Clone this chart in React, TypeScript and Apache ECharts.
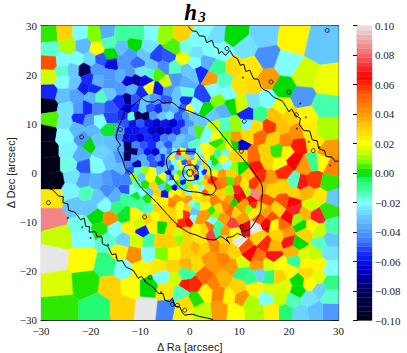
import React, { useEffect, useRef } from "react";
import * as echarts from "echarts";

type Cell = [number, number, number];

const cellsNorthWest: Cell[] = [
[-28.4,28.2,.003],[-25.1,28.5,.03],[-22.1,28.5,-.02],[-19.1,28.2,.008],[-16.7,28.5,-.036],[-13.7,28.2,-.012],[-10.7,28.5,-.012],[-7.7,28.5,-.02],[-5,28.2,.01],[-1.6,28.2,.03],
[-28.1,25.1,-.016],[-24.5,25.9,.012],[-21.5,25.8,-.033],[-18.7,25.1,.02],[-16.2,26.5,-.014],[-16,24.1,0],[-13.7,25.5,-.032],[-11.1,25.9,0],[-8.3,25.5,-.025],[-12,24.1,-.04],[-9.3,24.1,-.03],[-6.6,23.9,-.052],[-4.3,23.8,-.05],[-3.3,25.5,.005],[-1.3,23.1,.018],[-.6,25.8,-.018],
[-28.2,22.4,.055],[-25.5,22.7,-.02],[-22.8,23.1,-.02],[-20.1,23.1,-.027],[-17.9,23.1,-.05],[-15.7,22.1,-.062],[-13.4,22.4,-.04],[-10.5,22.4,-.048],[-7.6,21.7,-.03],[-5.3,21.4,-.043],[-3,21.4,-.015],[-.6,21,-.03],
[-28.3,19.5,.015],[-25.6,20.9,-.016],[-23.5,21,-.03],[-21.2,20.9,-.08],[-18.7,21,-.04],[-16,20,-.04],[-13.9,19.7,-.035],[-12,20.4,-.04],[-10,20.5,-.025],[-8,20.4,-.015],[-6.3,20.2,.005],[-4.8,18.3,.015],[-2.8,19,-.04],[-.6,18.3,-.035],
[-28.2,16.4,-.056],[-25.6,18.5,-.02],[-23.1,18.3,-.03],[-20.4,19,-.055],[-21.4,17.3,-.058],[-18.8,18.7,-.035],[-16,18,-.04],[-12.4,18.7,-.065],[-10.8,19,-.07],[-9,18.7,-.062],[-8.2,17.3,.02],[-6.3,17,-.06],[-4.3,16.7,-.04],[-.9,16.4,-.017],[-19.4,17,-.055],[-14,17,-.04],[-11.7,17,-.035],[-9.7,16.2,-.055],[-2.6,16,-.03],
[-25.5,15.7,-.032],[-22.8,15.7,-.038],[-19.7,15.5,-.034],[-18.2,15.5,-.015],[-16,16.3,-.03],[-12.6,14.9,-.075],[-14,14.6,-.055],[-11,14.9,-.05],[-8.8,14.6,-.03],[-7,14.9,-.04],[-4.7,14.6,-.05],[-1,14.6,-.055],[-2.7,13.9,-.03],
[-28.5,13.6,-.1],[-28.1,10.9,.005],[-28.7,8.1,-.1],[-28.5,4.7,-.1],[-28.1,1.7,-.1],
[-24.8,12.9,-.025],[-25.1,10.2,-.025],[-25.1,7.5,-.02],[-24.3,4.7,-.022],[-24.1,1.7,-.018],
[-22.1,13,-.04],[-20.9,13,-.055],[-22.1,11,-.055],[-22.8,9,-.033],[-20.4,10.6,-.04],[-19.8,8.6,-.033],[-18.1,10.7,-.02],[-18.4,13,-.045],[-16,13,-.05],[-16,11.5,-.052],[-16.2,8.6,-.002],
[-21.5,7,-.04],[-20.1,5.9,0],[-22.1,3.5,-.035],[-18.7,6.5,-.03],[-17.7,4.2,-.028],[-21.4,1.3,-.05],[-18.7,1.5,-.02],[-16,6.3,-.032],[-16,2.5,-.03],[-13.9,7.5,-.045],[-14,5.5,-.035],[-14,3,-.04],[-13.7,1,-.032],
];

const cellsBlueCore: Cell[] = [
[-12.5,13,-.065],[-11,13.2,-.055],[-9.5,12.9,-.03],[-8,13.2,-.05],[-6.3,12.9,-.055],[-4.8,13.2,-.04],[-3.2,12.9,-.035],[-1.5,13.2,-.05],[0,12.9,.02],
[-13.2,11.5,-.055],[-11.8,11.4,-.016],[-10.4,11.6,-.08],[-8.9,11.5,-.08],[-7.3,11.6,-.04],[-5.6,11.5,-.03],[-4,11.6,-.025],[-2.3,11.5,-.05],[-.7,11.6,-.04],
[-13,10,-.05],[-11.5,9.9,-.06],[-10,10.1,-.05],[-8.3,10,-.06],[-6.7,10.1,-.065],[-5,10,-.06],[-3.4,10.1,-.065],[-1.7,10,-.055],[-.2,10.1,-.04],
[-14,8.5,-.04],[-12.3,8.5,-.06],[-10.9,8.6,-.06],[-9.2,8.5,-.055],[-7.6,8.6,-.065],[-5.9,8.5,-.07],[-4.3,8.6,-.065],[-2.6,8.5,-.055],[-1,8.6,-.04],[.4,8.5,-.03],
[-12.8,7.1,-.06],[-11.6,7,-.06],[-10,7.1,-.065],[-8.4,7,-.055],[-6.8,7.1,-.06],[-5.1,7,-.045],[-3.5,7.1,-.04],[-1.8,7,-.03],[-.2,7.1,-.035],
[-12.5,5.6,-.08],[-10.9,5.6,-.045],[-9.3,5.5,-.05],[-7.6,5.6,-.055],[-6,5.5,-.035],[-4.3,5.6,-.05],[-2.7,5.5,-.03],[-1,5.6,-.035],[.5,5.5,-.015],
[-11,4.3,-.08],[-10,4.2,-.045],[-8.5,4.3,-.06],[-6.9,4.2,-.065],[-5.2,4.4,-.03],
[-12.5,3,-.08],[-11.2,2.9,-.04],[-9.5,3,-.035],[-7.8,2.9,-.05],[-6.2,3,-.04],[-5.4,3.1,-.055],
[-12.5,1.8,-.045],[-10.6,1.7,-.07],[-8.9,1.8,-.035],[-7.3,1.7,-.05],[-5.7,1.8,-.06],
];

const cellsCentre: Cell[] = [
[-4,4.2,-.045],[-3,4.2,-.02],[-2.3,4,.065],[-1.3,4.3,.02],[-.3,4.1,-.05],[.7,4.3,-.05],[1.7,4.1,-.02],[3,4.3,.02],[4.3,4.1,.025],
[-4.5,3.1,-.03],[-3.5,3,.02],[-2.5,3.2,-.03],[-1.5,3,-.015],[-.5,3.2,.03],[.5,3,-.03],[1.5,3.2,.02],[2.5,3,-.025],[3.5,3.2,.02],[4.7,3,.002],
[-4.3,2,-.04],[-3.1,2.1,-.02],[-2.1,1.9,.02],[-1.1,2.1,-.05],[-.1,1.9,.05],[.9,2.1,.02],[1.9,1.9,-.03],[2.9,2.1,.03],[3.9,1.9,-.02],[5,2,.002],
[-4.7,1,-.03],[-3.6,.9,-.05],[-2.6,1.1,-.02],[-1.6,.9,.02],[-.6,1.1,-.02],[.4,.9,.03],[1.4,1.1,-.05],[2.4,.9,-.02],[3.4,1.1,.03],[4.4,.9,-.015],
[-4.2,0,-.06],[-3.1,.1,-.025],[-2.1,-.1,.005],[-1.1,.1,-.035],[-.1,-.1,.02],[.9,.1,.045],[1.9,-.1,-.02],[3,.2,-.055],[3.9,-.1,.025],[5,.1,.02],
[-4.5,-1,-.03],[-3.6,-1.1,-.05],[-2.6,-.9,.02],[-1.6,-1.1,-.03],[-.6,-.9,-.02],[.4,-1.1,.02],[1.4,-.9,-.06],[2.4,-1.1,-.02],[3.4,-.9,.04],
[-3.5,-2,-.02],[-2.5,-2.1,.005],[-1.3,-1.9,-.06],[-.2,-2.1,.01],[.8,-1.9,-.025],[1.8,-2.1,-.015],[2.8,-1.9,.03],
[-3,-3,-.065],[-2,-3.1,-.03],[-.9,-2.9,-.01],[.2,-3.1,.03],[1.3,-2.9,.02],[2.3,-3.1,-.02],[3.6,-2.9,.03],
[-2.2,-4,.02],[-1.2,-4.1,.03],[-.2,-3.9,-.02],[.9,-4.1,.025],
[-12,.5,-.05],[-10.5,.4,-.015],[-9,.6,.01],[-7.5,.4,.02],[-6,.6,-.03],
[-11.3,-1,.01],[-9.8,-.9,-.03],[-8,-1.1,.02],[-6,-1.8,.002],[-5.2,-.9,.02],
[-10.6,-2.6,-.015],[-9,-2.5,.002],[-7.4,-2.8,.03],[-5.5,-3,-.03],[-4.4,-3.2,.002],
[-9.5,-4,-.02],[-8,-3.9,-.03],[-6.5,-4.1,.03],[-5,-4.2,-.06],[-3.5,-4.2,.02],[-2.8,-5,.04],
];

const cellsNorthEast: Cell[] = [
[3.4,29,-.02],[1.3,26.8,-.02],[5,28.2,-.026],[9.2,27.8,0],[14.8,27.8,-.028],[20.8,27.1,.022],[26.5,25.8,-.03],
[11.1,25.5,-.025],[6.7,24.4,-.02],[15.5,23.4,-.042],[19.5,22,-.02],[23.2,19.7,.015],[27.5,18.3,.018],
[15.8,19,.04],[18.8,17.3,0],[22.8,15.3,-.04],[26.9,13.6,-.013],[8.7,21.7,.028],[12.4,21.4,.025],[10,17.6,.026],[12.8,17.6,.028],
[2,20.4,-.055],[4.4,19,.04],[5.7,21.4,-.01],[6.7,18.7,-.015],[.6,20,-.03],[3.4,22.7,-.035],[1,22.5,-.02],[1.3,24.5,-.025],[4,24.9,-.02],
[7.7,16,-.02],[2.7,15.7,-.052],[5.9,14.6,.008],[8.2,13.7,0],[12.8,14.6,-.025],[15.6,14.9,-.02],[18.5,13.4,.018],[11.6,11.9,-.055],[14.1,11.9,-.01],[17.1,11.5,.033],[20.2,11.2,.03],[23.5,11.5,.022],[27.2,8.8,.012],[10.4,14,.015],[3.2,12.8,0],[6.7,12.8,-.035],[4.4,11.5,-.03],[1.3,13.6,-.02],[.5,11.5,-.03],[2,10.3,-.03],[4.8,17,-.02],
[11.4,9.8,-.022],[16,9.3,.058],[9.3,9.6,.01],[7,9.5,-.015],[5,9.5,.014],[13.4,9.2,.028],[18.8,9.2,.033],[21.5,8.1,.042],[24.2,8.5,.024],[14.2,7.5,.05],[16.8,6.8,.03],[19.5,6.6,.045],[21.8,5.6,.062],[25.2,6.1,.025],[11.4,7.5,.028],[9.4,7.1,.04],[7,7.5,.008],[5.4,7.3,.02],[3.4,8,-.02],[1.8,8.7,.005],
[10.4,5.6,-.065],[9.1,5.6,0],[15.1,4.1,.03],[17.6,4.4,.003],[19.6,4,.022],[21,2.6,.065],[27.7,4.4,.04],[24.9,2,-.01],[23.2,1.4,.04],[28.6,1.3,.045],[15.8,2.2,.03],[8,5.2,.022],[6.5,5.3,.008],[5.8,6.2,.002],[18,1.8,.02],[26.8,2.2,.02],
];

const cellsSouthEast: Cell[] = [
[18.8,.2,.06],[22.5,-2.1,.068],[25.2,-1.5,.058],[27.9,-2.1,.003],[28.9,-5.2,-.03],[26.2,-4.9,.025],[23.5,-4.2,.035],[21,-4.2,.03],[21.2,-1.8,-.015],[18.8,-2.8,.03],[16,-1.1,.04],[16.1,-3.5,.03],[19.2,-5.7,.055],[20.5,-6,.065],[24.5,-6.6,.015],[21,-7.7,.07],[23.2,-8.5,.035],[25.7,-8.7,.07],[27.9,-7.7,.003],[28.9,-11,-.013],[26,-12,.014],[22.5,-10.8,0],[24.5,-11,.022],[21.6,-9.4,.01],[19.8,-9.1,.065],[17.7,-7.6,.03],[16.5,-8.9,.055],[15.5,-10.3,.065],[17.1,-10.6,.022],[18.8,-10.6,.05],[19.5,-12.3,.04],[20,-14,.068],[21.8,-14.4,0],[23.2,-12.3,.03],[15.3,-14.5,.06],[13.8,-13,.03],[17.8,-12.7,.03],[16.9,-15,.035],[20.7,-16,.035],[16.9,-17,.068],[12.1,-16.4,.065],[11.1,-15,.055],[10.1,-14,.1],[13.8,-17.2,.048],[10.4,-18.5,.016],[8.7,-19,.04],[21.2,-18,-.01],[23.2,-16.8,.016],[25.2,-16.4,.014],[26.5,-14.4,-.015],[28.2,-16.4,-.025],[28.2,-13.7,-.03],[28.2,-19.5,-.02],[28.2,-22.5,-.008],[26.2,-23.9,-.028],[23.9,-25.6,-.025],[28.2,-25.2,-.016],[28.2,-28.3,-.04],[25.5,-28.3,-.032],[22.2,-28.6,-.028],[19.2,-28.3,-.006],[20.8,-25.9,-.014],[18.1,-25.6,.014],[15.6,-25.2,-.02],[12.1,-26.3,.012],[16.7,-28.3,.023],[13.1,-28.6,.012],[9.1,-28.3,.02],[6,-28,.04],[2.5,-28.3,.014],[10.6,-25.4,.042],[7.7,-24.9,.022],[6,-24.6,.045],[5,-22.5,.045],[3,-24.3,.022],[1,-25.6,.002],[1,-22.9,.06],[3.2,-21,.05],[6.7,-21.8,.035],[9.7,-23.2,.03],[13.1,-23.6,.022],[16.1,-24,.016],[19.2,-23.2,.016],[21.8,-21.9,0],[21.8,-24,0],[24.2,-22.5,.02],[25.9,-21.2,.017],[16.1,-21,-.008],[12.4,-21.2,-.01],[10.6,-20.3,-.008],[14.1,-20.5,-.028],[18,-21,.03],[20.3,-20,.022],[23.5,-20.3,.028],[15.8,-18.8,.016],[18.1,-18.6,.02],[13.8,-18.8,.04],[23.5,-18.5,.022],[26.2,-18.8,.022],[1,-18.4,.028],[5,-18.8,.04],[6.7,-17.4,.045],[4,-17,.04],
[1,-15,.035],[3,-15.5,.03],[5,-15,.045],[7,-15.3,.035],[8.8,-16,.03],[2,-13.5,.025],[7.2,-13.5,.03],
];

const cellsDisc: Cell[] = [
[12.8,3.6,.05],[13.4,.9,.062],[14.4,-.8,.06],[12.8,-2.2,.058],[10.4,.9,0],[9,.9,.01],[11.6,-.5,.03],[9.7,-1.8,.045],[8.1,-1.5,.005],[6.7,-1.8,.045],[6.4,-.1,.04],[7.4,1.6,-.02],[5.7,1.2,-.015],[5.4,3.6,-.01],[7.4,4.1,-.018],[4.4,-1.5,.06],[5.7,-2.5,.05],[4.1,-3.5,.028],[3,-4.2,.055],[2,-4.4,.022],[5,-5.5,.045],[7,-6.9,.045],[8.1,-3.8,.01],[9.7,-3.4,.07],[11.4,-4.2,.012],[13.1,-4.5,.085],[10.8,-4.5,.065],[9.7,-5.2,.065],[8.9,-5.9,0],[12.4,-5.5,.065],[8.1,-5.4,.04],[11.1,-6.2,.04],[12.6,-6.7,.06],[15.1,-5.5,.055],[14.6,-3.2,.04],[12.1,-7.2,.01],[10.2,-7.2,.04],[8.1,-7.6,.05],[4.4,-8,.003],[6,-7.2,.028],[1.3,-6.6,-.015],[.3,-6.2,-.02],[.7,-7.9,-.03],[3,-6.6,.022],[3.4,-8.6,.04],[5,-8.6,.01],[1.7,-9.6,.04],[.7,-9.3,-.02],[4.6,-9.8,-.02],[5.7,-10.6,-.012],[4,-11,.05],[8.7,-10.4,.075],[6.7,-9.3,.04],[10.4,-9.3,.04],[14.1,-9.3,.055],[11.4,-11.3,.065],[13.1,-11.3,.1],[4.4,-12.4,.075],[5.5,-12,-.01],[7.1,-12,.04],[3,-11.5,.03],[1.3,-11.3,.022],[9,-12.2,.022],[9.4,-8,.03],[13.1,-8,.024],[15.4,-8,.04],[14.4,-7,.03],[10.4,3.6,.03],[8.7,3.6,.03],[6.7,2.8,.02],[3,-5.3,.03],[1.3,-5.3,.025],[-.3,-5.5,.04],[6.4,-4.3,.03],[10.9,-2.2,.025],[8.4,-.2,.03],
[-3.6,-6.2,.045],[-5.2,-6,.022],[-7,-5.5,.022],[-8.6,-5.2,.002],[-11,-4.9,-.002],[-11.8,-3.5,-.02],[-12.7,-3.5,-.05],[-12.6,-1.5,-.045],[-15,-1.2,-.045],[-2,-7,.02],[-.4,-7.2,.03],
[-.8,-8.5,.06],[-2,-8.5,.022],[-3.5,-8,.03],[-5,-7.6,.028],[-6.6,-7.3,.03],[-8.3,-7.2,-.015],[-9.8,-6.3,-.012],[-11.4,-5.6,-.012],
[-.3,-10,.065],[-1.6,-10.3,.06],[-3.5,-9.8,.03],[-5.3,-9,.028],[-7,-8.8,.02],[-8.5,-9.5,.03],
[-.8,-12,.03],[-2.4,-12.4,.015],[-4,-11.5,.028],[-5.6,-11,0],[-7.6,-11,.022],
];

const cellsSouthWest: Cell[] = [
[-23.4,-.8,-.025],[-23.8,-3.8,-.022],[-27.5,-1.6,-.1],[-27.5,-5.2,.025],[-23.1,-6.6,-.03],[-27.5,-9.3,.085],[-20.8,-4.2,-.014],[-21.5,-1.5,-.038],[-18.8,-1.8,-.035],[-16.7,-3.5,-.043],[-18.4,-4.9,-.03],[-20.1,-6.9,-.03],[-17.1,-6.6,-.02],[-14.6,-6.9,-.008],[-13,-5.2,-.01],[-15,-4.9,-.035],[-16.5,-1.5,-.04],[-18.7,-8.9,0],[-16.2,-9.3,.042],[-18.1,-11.6,.002],[-21.7,-10.9,-.018],[-26.5,-13,.014],[-21.3,-12.8,-.02],[-15,-11.6,-.02],[-12.2,-11.3,.022],[-9.5,-11.9,-.058],[-10.3,-10.3,.015],[-13.4,-13.7,-.028],[-10.6,-13.8,.015],[-8.2,-13.8,-.012],[-16.6,-13.7,-.016],[-11.2,-8.5,.022],[-13,-8.5,-.002],
[-27.5,-17.4,.1],[-21.4,-17.8,.021],[-26.5,-22.9,.016],[-16.7,-18.8,-.008],[-14,-16,.023],[-11.2,-16.7,.043],[-8.3,-16.4,-.02],[-13.4,-19.5,-.02],[-5.6,-16.4,.008],[-6,-14,.03],[-3.6,-14,.03],[-2.2,-13.4,.01],[-.6,-16.4,.03],[-3.2,-16.4,.022],[-6.3,-19.1,.025],[-3.2,-19.1,.03],[-3,-21.5,.015],[-5.6,-21.2,-.02],[-.6,-22.9,.062],[-.9,-20.5,-.012],[-1.6,-24.5,-.014],[-5,-23.9,.025],[-8.3,-23.2,0],[-11.9,-23.2,.02],[-16,-23.2,.03],[-20.8,-22.5,.002],[-10,-19.6,.022],[-.6,-18.5,.035],[-.4,-14.5,.03],[-26.1,-27.3,.003],[-18.7,-27.3,-.006],[-13.4,-27.3,.03],[-8.7,-27.6,.1],[-4.6,-28,-.045],[-1.6,-28.6,.022],[-.7,-26.5,.028],
];

const levels = [-0.1,-0.08,-0.065,-0.055,-0.045,-0.03,-0.02,-0.012,-0.005,0,0.008,0.015,0.02,0.03,0.04,0.055,0.065,0.08,0.1];
const reds   = [0,0,0,20,65,100,128,64,30,0,128,210,255,255,255,255,255,245,230];
const greens = [0,0,0,40,130,200,255,255,250,220,255,255,255,210,155,80,0,100,230];
const blues  = [25,90,210,255,255,255,255,160,110,0,0,0,0,0,0,0,0,105,230];

const colorBarBands = 64;
const ticksBar = { min: -0.1, max: 0.1, interval: 0.02 };
const axisLimit = 30;

const islands: [number, number][] = [[-21.8,7.3],[-28.5,-6.1],[-9.1,-9],[27.7,29],[11,10.5],[10.4,4.4],[21.5,11.8],[16.4,18.5],[20,16.4],[24.9,4.5],[10.5,-11],[-12.9,7.5],[-14,8.8],[-8,-21.3],[-1,-28],[-3.5,-26.8],[7.5,25.3],[-2.5,-27]];
const specks: [number, number][] = [[-24.6,-9.2],[-21.7,-11.1],[-20,-13.3],[-16.5,-14.7],[-14.8,-17.2],[-9,-21.9],[-5.8,-24.3],[10.7,19.4],[22.3,14.1],[23.4,11.3],[21.6,9],[26.2,5.2],[28.3,1.5],[24,6.3],[15.5,-11.3]];

const contourOuterNE: [number, number][] = [[-.3,29.8],[.5,28.9],[1.4,28.8],[1.9,27.9],[3,27.8],[3.4,26.5],[4.5,27],[4.9,25.7],[5.7,25.3],[5.9,24.2],[6.4,24.8],[7.2,23.9],[8.1,24.9],[8.8,23.7],[9.6,23.3],[10.2,21.9],[10.9,22.1],[11.3,20.6],[12.1,20.9],[12.9,19.1],[13.8,19.1],[14.4,17.4],[15,16.9],[15.9,16.5],[16.9,15.4],[17.6,15.1],[18.7,14.6],[19.5,13.3],[20,12.4],[20.5,13],[21.4,11.6],[22.3,11.1],[22.1,9.8],[23,8.6],[24.2,8.5],[24.7,6.7],[25.7,6.5],[26,4.9],[27.2,4.5],[27.5,3.3],[28.7,3.2],[29.3,2.3],[30,2.4]];
const contourOuterSW: [number, number][] = [[-30,-1.5],[-28.5,-3.2],[-27.6,-3.5],[-26.5,-4.7],[-25.5,-4.9],[-25.6,-6.1],[-24.6,-6.3],[-24.4,-7.7],[-23.2,-8],[-22,-9.6],[-21.3,-9.2],[-21,-10.9],[-20.2,-11],[-20.3,-12.1],[-19,-12],[-18.7,-13],[-17.7,-13.1],[-17.6,-14.5],[-16.5,-15],[-15.7,-16.7],[-14.9,-16.5],[-14.6,-18],[-13.6,-17.9],[-12.9,-19.2],[-12,-19.6],[-11.3,-20],[-10.4,-21.5],[-9.7,-21.1],[-8.9,-22.3],[-7.5,-23.2],[-6.3,-24.6],[-5.4,-24.6],[-5,-26],[-4,-26.3],[-3.5,-25.5],[-3,-27.2],[-2,-27.3],[-1.5,-28.5],[-1,-29],[.5,-28.8],[2,-29.3],[3.5,-29.6],[4.7,-29.9]];
const contourMiddle: [number, number][] = [[-9.7,15.2],[-8.6,14.5],[-7.2,14.4],[-6.4,14.9],[-5.3,14.2],[-3.8,14.4],[-2.2,13.3],[0,12.5],[1.6,11.8],[3.4,11],[5,9.6],[6.7,7.5],[8.7,5],[10,3.7],[11.4,2],[12.2,1.1],[13,-.1],[14.4,-2.1],[14.7,-4],[14.4,-6.2],[14.4,-7.3],[14.1,-8.3],[13.2,-10],[12,-11.6],[10.4,-12],[11.4,-13.3],[9.6,-12.4],[8.7,-13],[7.4,-13.3],[8,-14.4],[6.2,-13],[5,-13.7],[2.7,-13.3],[1.1,-12.6],[0,-12.3],[-2,-11],[-3.7,-9.4],[-5.3,-7.6],[-6.7,-6],[-8.4,-4.4],[-10,-2.8],[-12,.2],[-12.8,.5],[-13.6,2.8],[-14.5,5],[-14,5.6],[-14.8,7],[-14.5,9],[-13.6,11],[-13,12.5],[-11.6,13.6],[-9.7,15.2]];
const contourInner: [number, number][] = [[-3.3,4.2],[-1.5,4.4],[.8,4.3],[2.4,2.6],[4.1,.9],[4.3,-.4],[4.5,-1.5],[5.3,-3.2],[4.1,-4.5],[1.8,-4],[-1.2,-3.5],[-2.9,-1.8],[-4.3,.6],[-4.7,2.6],[-3.3,4.2]];
const contourCore: [number, number][] = [[-.9,1.4],[.4,1.6],[1.3,.9],[1.7,-.4],[1.1,-1.4],[-.1,-1.6],[-1.1,-.9],[-1.4,.2],[-.9,1.4]];
const contourNucleus: [number, number][] = [[-.3,.6],[.3,.6],[.7,.1],[.5,-.5],[0,-.7],[-.5,-.4],[-.6,.1],[-.3,.6]];

const seeds: Cell[] = [...cellsNorthWest, ...cellsBlueCore, ...cellsCentre, ...cellsNorthEast, ...cellsSouthEast, ...cellsDisc, ...cellsSouthWest];

function colorOf(v: number): string {
  const c = Math.max(levels[0], Math.min(levels[levels.length - 1], v));
  let i = 0;
  while (i < levels.length - 2 && c > levels[i + 1]) i++;
  const t = (c - levels[i]) / (levels[i + 1] - levels[i]);
  const mix = (a: number[]) => Math.round(a[i] + (a[i + 1] - a[i]) * t);
  return `rgb(${mix(reds)},${mix(greens)},${mix(blues)})`;
}

function voronoiCell(k: number): [number, number][] {
  let poly: [number, number][] = [[-axisLimit, -axisLimit], [axisLimit, -axisLimit], [axisLimit, axisLimit], [-axisLimit, axisLimit]];
  const [sx, sy] = seeds[k];
  for (let j = 0; j < seeds.length && poly.length; j++) {
    if (j === k) continue;
    const [ox, oy] = seeds[j];
    const nx = ox - sx, ny = oy - sy;
    const d = (ox * ox + oy * oy - sx * sx - sy * sy) / 2;
    const out: [number, number][] = [];
    for (let m = 0; m < poly.length; m++) {
      const a = poly[m], b = poly[(m + 1) % poly.length];
      const fa = a[0] * nx + a[1] * ny - d, fb = b[0] * nx + b[1] * ny - d;
      if (fa <= 0) out.push(a);
      if ((fa < 0 && fb > 0) || (fa > 0 && fb < 0)) {
        const t = fa / (fa - fb);
        out.push([a[0] + (b[0] - a[0]) * t, a[1] + (b[1] - a[1]) * t]);
      }
    }
    poly = out;
  }
  return poly;
}

const fmtSigned = (v: number) => String(v).replace("-", "\u2212");
const fmtBar = (v: number) => (Math.abs(v) < 1e-9 ? "0.00" : v.toFixed(2).replace("-", "\u2212"));
const serif = "'Liberation Serif', serif";
const sans = "'Liberation Sans', sans-serif";
const ink = "#111";

export default function App() {
  const ref = useRef<HTMLDivElement>(null);
  useEffect(() => {
    const chart = echarts.init(ref.current!, null, { renderer: "svg" });
    const polys = seeds.map((_, k) => voronoiCell(k));
    const bands: [number, number][] = [];
    for (let i = 0; i < colorBarBands; i++) {
      const step = (ticksBar.max - ticksBar.min) / colorBarBands;
      bands.push([ticksBar.min + i * step, ticksBar.min + (i + 1) * step]);
    }
    const axisCommon = {
      min: -axisLimit, max: axisLimit, interval: 10, type: "value" as const, splitLine: { show: false },
      axisLine: { onZero: false, lineStyle: { color: "#333", width: 1.2 } },
      axisTick: { inside: true, length: 7, lineStyle: { color: ink, width: 1 } },
      minorTick: { show: true, splitNumber: 5, length: 3.5, lineStyle: { color: ink, width: 1 } },
      minorSplitLine: { show: false },
    };
    const labelStyle = { fontFamily: serif, fontSize: 11, color: "#222" };
    const contour = (data: [number, number][], smooth: number | boolean = false) => ({
      type: "line", data, symbol: "none", xAxisIndex: 0, yAxisIndex: 0, z: 5, smooth, clip: true,
      lineStyle: { color: "#000", width: 1 },
    });
    chart.setOption({
      animation: false,
      backgroundColor: "#fff",
      title: {
        text: "{h|h}{s|3}", left: 190, top: -4, textAlign: "center",
        textStyle: { rich: {
          h: { fontFamily: serif, fontWeight: "bold", fontStyle: "italic", fontSize: 23, color: "#000", verticalAlign: "bottom" },
          s: { fontFamily: serif, fontWeight: "bold", fontStyle: "italic", fontSize: 15, color: "#000", verticalAlign: "bottom", padding: [2, 0, 0, 1] },
        } },
      },
      grid: [
        { left: 41, top: 25.5, width: 297.5, height: 294.5, outerBoundsMode: "none" },
        { left: 357, top: 25.5, width: 15, height: 295, outerBoundsMode: "none" },
      ],
      xAxis: [
        { ...axisCommon, gridIndex: 0, position: "bottom", axisLabel: { ...labelStyle, margin: 5, showMinLabel: true, showMaxLabel: true, formatter: fmtSigned },
          name: "\u0394 Ra [arcsec]", nameLocation: "middle", nameGap: 21, nameTextStyle: { fontFamily: sans, fontSize: 11, color: "#222" } },
        { ...axisCommon, gridIndex: 0, position: "top", axisLabel: { show: false } },
        { type: "value", gridIndex: 1, min: 0, max: 1, show: false },
      ],
      yAxis: [
        { ...axisCommon, gridIndex: 0, position: "left", axisLabel: { ...labelStyle, margin: 4, showMinLabel: true, showMaxLabel: true, formatter: fmtSigned },
          name: "\u0394 Dec [arcsec]", nameLocation: "middle", nameGap: 25, nameMoveOverlap: false, nameTextStyle: { fontFamily: sans, fontSize: 11, color: "#222" } },
        { ...axisCommon, gridIndex: 0, position: "right", axisLabel: { show: false } },
        { type: "value", gridIndex: 1, position: "right", min: ticksBar.min, max: ticksBar.max, interval: ticksBar.interval, splitLine: { show: false },
          axisLine: { lineStyle: { color: "#333", width: 1.2 } },
          axisTick: { inside: true, length: 4, lineStyle: { color: ink } },
          axisLabel: { ...labelStyle, margin: 3, showMinLabel: true, showMaxLabel: true, formatter: fmtBar } },
      ],
      series: [
        {
          type: "custom", xAxisIndex: 0, yAxisIndex: 0, clip: true, z: 1, data: seeds, encode: { x: 0, y: 1 },
          renderItem: (params: any, api: any) => {
            const pts = polys[params.dataIndex].map((p) => api.coord(p));
            const c = colorOf(api.value(2));
            return { type: "polygon", shape: { points: pts }, style: { fill: c, stroke: c, lineWidth: 0.4 } };
          },
        },
        {
          type: "custom", xAxisIndex: 2, yAxisIndex: 2, z: 1, data: bands.map((b) => [0, b[0], b[1]]), encode: { y: 1 },
          renderItem: (_: any, api: any) => {
            const a = api.coord([0, api.value(1)]);
            const b = api.coord([1, api.value(2)]);
            const c = colorOf((api.value(1) + api.value(2)) / 2);
            return { type: "rect", shape: { x: a[0], y: b[1], width: b[0] - a[0], height: a[1] - b[1] }, style: { fill: c, stroke: c, lineWidth: 0.3 } };
          },
        },
        contour(contourOuterNE), contour(contourOuterSW), contour(contourMiddle, 0.3), contour(contourInner, 0.4), contour(contourCore, true), contour(contourNucleus, true),
        { type: "scatter", data: islands, symbol: "circle", symbolSize: 4, z: 6, itemStyle: { color: "transparent", borderColor: "#000", borderWidth: 1 } },
        { type: "scatter", data: specks, symbol: "circle", symbolSize: 1.8, z: 6, itemStyle: { color: "#000" } },
      ],
    });
    return () => chart.dispose();
  }, []);
  return <div ref={ref} style={{ width: 407, height: 353, position: "absolute", left: 0, top: 0 }} />;
}
